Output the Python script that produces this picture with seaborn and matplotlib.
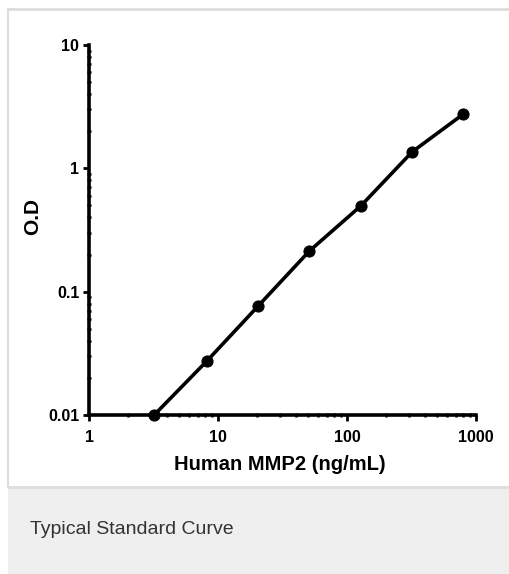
import matplotlib
matplotlib.use("Agg")
import matplotlib.pyplot as plt
import matplotlib.ticker as mticker
from matplotlib.patches import Rectangle
from matplotlib.lines import Line2D
import seaborn as sns
import pandas as pd

concentration = [3.2, 8.2, 20.5, 51.2, 128, 320, 800]
od = [0.0100, 0.0274, 0.0766, 0.214, 0.496, 1.36, 2.76]
x_ticks = [1, 10, 100, 1000]
x_tick_labels = ["1", "10", "100", "1000"]
y_ticks = [0.01, 0.1, 1, 10]
y_tick_labels = ["0.01", "0.1", "1", "10"]
x_label = "Human MMP2 (ng/mL)"
y_label = "O.D"
caption = "Typical Standard Curve"

df = pd.DataFrame({"conc": concentration, "od": od})

sns.set_theme(style="white")
plt.rcParams['font.family'] = ['Liberation Sans', 'DejaVu Sans']

fig = plt.figure(figsize=(5.09, 5.74), dpi=100)
W, H = 509, 574

# outer panel decorations
fig.patches.append(Rectangle((8 / W, 0), 1 - 8 / W, (574 - 487) / H, transform=fig.transFigure,
                             facecolor="#eeefee", edgecolor="none", zorder=0))
fig.lines.append(Line2D([8 / W, 1], [1 - 8.5 / H, 1 - 8.5 / H], transform=fig.transFigure,
                        color="#dddddd", lw=2))
fig.lines.append(Line2D([8 / W, 8 / W], [(574 - 487) / H, 1 - 8.5 / H], transform=fig.transFigure,
                        color="#dddddd", lw=1.5))
fig.lines.append(Line2D([8 / W, 1], [(574 - 487) / H, (574 - 487) / H], transform=fig.transFigure,
                        color="#dddddd", lw=2))

left, right, top, bottom = 89, 476, 45, 415
ax = fig.add_axes([left / W, 1 - bottom / H, (right - left) / W, (bottom - top) / H])
ax.set_facecolor("none")

sns.lineplot(data=df, x="conc", y="od", ax=ax, color="black", lw=2.6,
             marker="o", markersize=8, markeredgecolor="black", clip_on=False, zorder=5)

ax.set_xscale("log")
ax.set_yscale("log")
ax.set_xlim(1, 1000)
ax.set_ylim(0.01, 10)

ax.set_xticks(x_ticks)
ax.set_xticklabels(x_tick_labels)
ax.set_yticks(y_ticks)
ax.set_yticklabels(y_tick_labels)
ax.xaxis.set_minor_locator(mticker.LogLocator(base=10, subs=range(2, 10)))
ax.yaxis.set_minor_locator(mticker.LogLocator(base=10, subs=range(2, 10)))
ax.xaxis.set_minor_formatter(mticker.NullFormatter())
ax.yaxis.set_minor_formatter(mticker.NullFormatter())

for lab in ax.get_xticklabels() + ax.get_yticklabels():
    lab.set_fontweight("bold")
    lab.set_fontsize(11.5)
    lab.set_color("black")

ax.tick_params(axis="both", which="major", direction="out", length=4, width=2, color="black",
               bottom=True, left=True, pad=3)
ax.tick_params(axis="x", which="major", pad=7)
ax.tick_params(axis="both", which="minor", direction="inout", length=3, width=1.8, color="black",
               bottom=True, left=True)

for s in ["top", "right"]:
    ax.spines[s].set_visible(False)
for s in ["left", "bottom"]:
    ax.spines[s].set_color("black")
    ax.spines[s].set_linewidth(2.6)

ax.set_xlabel(x_label, fontsize=14.5, fontweight="bold", color="black", va="center")
ax.xaxis.set_label_coords((280 - left) / (right - left), (bottom - 464) / (bottom - top))
ax.set_ylabel(y_label, fontsize=15, fontweight="bold", color="black", va="center")
ax.yaxis.set_label_coords((33 - left) / (right - left), (bottom - 216) / (bottom - top))

fig.text(30 / W, 1 - 530 / H, caption, fontsize=14, color="#333333", va="center", ha="left")

fig.savefig("out.png", dpi=100)
